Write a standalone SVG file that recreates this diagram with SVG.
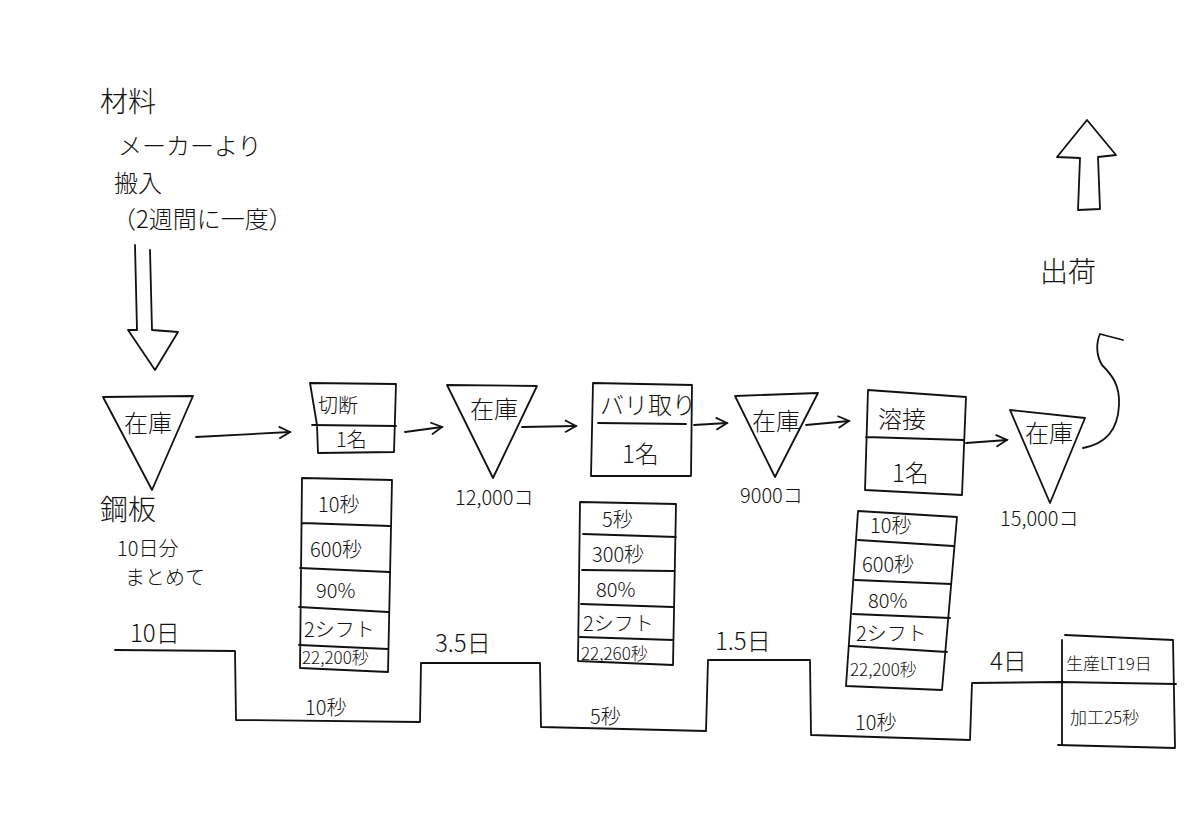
<svg xmlns="http://www.w3.org/2000/svg" width="1200" height="839" viewBox="0 0 1200 839">
<style>
.s{fill:none;stroke:#111;stroke-width:1.8;stroke-linejoin:round;stroke-linecap:round}
.t{font-family:"Noto Sans CJK JP","Noto Sans",sans-serif;fill:#111;font-weight:300}
.l{font-size:28px}
.m{font-size:24px}
.d{font-size:20px}
.n{font-size:17px}
</style>
<defs>
<marker id="a" markerWidth="14" markerHeight="14" refX="12" refY="7" orient="auto" markerUnits="userSpaceOnUse">
<path d="M1,1 L12,7 L1,13" fill="none" stroke="#111" stroke-width="1.8"/>
</marker>
</defs>
<rect width="1200" height="839" fill="#fff"/>

<g id="supplier">
<text class="t l" x="100" y="112">材料</text>
<text class="t m" x="118" y="155">メーカーより</text>
<text class="t m" x="114" y="192">搬入</text>
<text class="t m" x="112" y="228">（2週間に一度）</text>
<path class="s" d="M135,245 L137,330 L128,330 L155,370 L178,332 L152,330 L150,250"/>
</g>

<g id="inv1">
<path class="s" d="M103,397 L193,396 L152,490 Z"/>
<text class="t m" x="124" y="432">在庫</text>
<text class="t l" x="100" y="520">鋼板</text>
<text class="t d" x="117" y="556">10日分</text>
<text class="t d" x="125" y="585">まとめて</text>
</g>

<g id="cut">
<path class="s" d="M310,383 L396,384 L394,452 L318,453 L317,425 Z M312,425 L396,426"/>
<text class="t d" x="318" y="413">切断</text>
<text class="t d" x="336" y="447">1名</text>
<path class="s" d="M302,478 L392,480 L388,672 L300,668 Z M302,523 L390,526 M300,568 L389,572 M299,607 L388,612 M299,645 L388,649"/>
<text class="t d" x="318" y="512">10秒</text>
<text class="t d" x="310" y="557">600秒</text>
<text class="t d" x="316" y="598">90%</text>
<text class="t d" x="304" y="637">2シフト</text>
<text class="t n" x="302" y="664">22,200秒</text>
</g>

<g id="inv2">
<path class="s" d="M447,385 L537,386 L493,478 Z"/>
<text class="t m" x="470" y="418">在庫</text>
<text class="t d" x="455" y="505">12,000コ</text>
</g>

<g id="deburr">
<path class="s" d="M593,383 L692,385 L691,476 L591,476 Z M598,423 L686,424"/>
<text class="t m" x="600" y="414">バリ取り</text>
<text class="t m" x="622" y="463">1名</text>
<path class="s" d="M580,502 L676,504 L673,665 L578,661 Z M583,534 L676,537 M582,570 L674,571 M581,604 L673,607 M580,637 L673,640"/>
<text class="t d" x="602" y="527">5秒</text>
<text class="t d" x="592" y="562">300秒</text>
<text class="t d" x="596" y="597">80%</text>
<text class="t d" x="583" y="631">2シフト</text>
<text class="t n" x="581" y="660">22,260秒</text>
</g>

<g id="inv3">
<path class="s" d="M735,396 L818,393 L775,477 Z"/>
<text class="t m" x="752" y="430">在庫</text>
<text class="t d" x="740" y="503">9000コ</text>
</g>

<g id="weld">
<path class="s" d="M868,390 L966,397 L962,495 L865,490 Z M866,437 L963,440"/>
<text class="t m" x="878" y="428">溶接</text>
<text class="t m" x="892" y="482">1名</text>
<path class="s" d="M858,511 L957,517 L942,690 L846,686 Z M858,540 L953,546 M855,580 L951,584 M853,614 L950,618 M850,646 L947,652"/>
<text class="t d" x="870" y="533">10秒</text>
<text class="t d" x="862" y="572">600秒</text>
<text class="t d" x="868" y="608">80%</text>
<text class="t d" x="856" y="641">2シフト</text>
<text class="t n" x="850" y="676">22,200秒</text>
</g>

<g id="inv4">
<path class="s" d="M1010,410 L1085,418 L1050,503 Z"/>
<text class="t m" x="1025" y="442">在庫</text>
<text class="t d" x="1000" y="526">15,000コ</text>
</g>

<g id="ship">
<path class="s" d="M1078,210 L1080,158 L1057,157 L1087,120 L1116,155 L1098,157 L1100,209 Z"/>
<text class="t l" x="1040" y="282">出荷</text>
</g>

<g id="connectors">
<path class="s" d="M196,437 L290,432" marker-end="url(#a)"/>
<path class="s" d="M405,432 L442,427" marker-end="url(#a)"/>
<path class="s" d="M522,427 L576,426" marker-end="url(#a)"/>
<path class="s" d="M694,425 L727,423" marker-end="url(#a)"/>
<path class="s" d="M806,425 L849,421" marker-end="url(#a)"/>
<path class="s" d="M966,443 L1007,440" marker-end="url(#a)"/>
<path class="s" d="M1083,448 C1105,444 1118,430 1119,405 C1120,385 1112,375 1102,365 C1096,355 1096,343 1100,334 L1123,340"/>
</g>

<g id="timeline">
<path class="s" d="M115,650 L235,651 L236,720 L420,722 L421,663 L540,663 L541,727 L706,731 L708,660 L810,660 L811,735 L970,740 L972,683 L1060,682 L1176,684"/>
<path class="s" d="M1062,640 L1062,745 M1065,635 L1173,640 L1175,747 M1058,745 L1175,748"/>
<text class="t m" x="130" y="642">10日</text>
<text class="t m" x="435" y="652">3.5日</text>
<text class="t m" x="715" y="650">1.5日</text>
<text class="t m" x="990" y="670">4日</text>
<text class="t d" x="305" y="715">10秒</text>
<text class="t d" x="590" y="724">5秒</text>
<text class="t d" x="855" y="730">10秒</text>
<text class="t n" x="1066" y="670">生産LT19日</text>
<text class="t n" x="1070" y="724">加工25秒</text>
</g>
</svg>
